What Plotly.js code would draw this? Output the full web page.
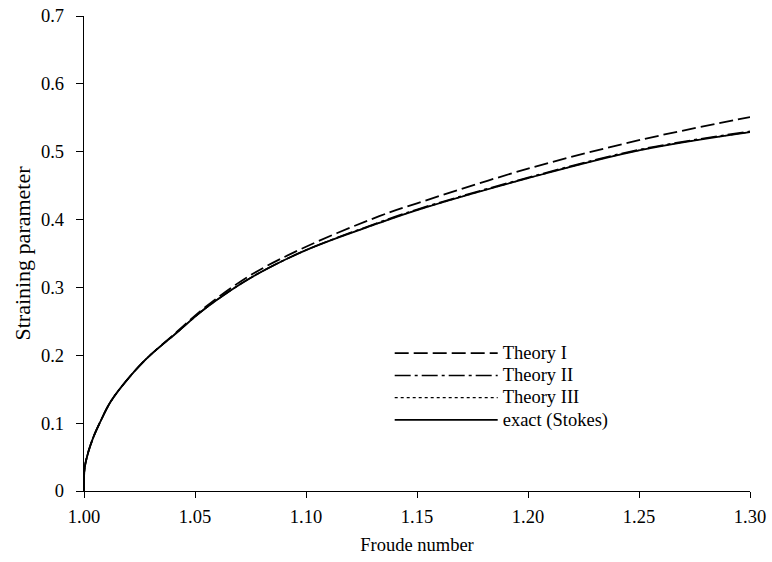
<!DOCTYPE html>
<html>
<head>
<meta charset="utf-8">
<script src="https://cdn.plot.ly/plotly-3.0.1.min.js"></script>
<style>html,body{margin:0;padding:0;background:#fff;}#chart{width:772px;height:562px;}</style>
</head>
<body>
<div id="chart"></div>
<script>
// Froude number samples
const froudeExact = [1.000, 1.0003, 1.0019, 1.0042, 1.0072, 1.0117, 1.0177, 1.0275, 1.042, 1.055, 1.075, 1.100, 1.133, 1.150, 1.200, 1.250, 1.300];
const exactStokes = [0.000, 0.034, 0.057, 0.079, 0.101, 0.130, 0.157, 0.193, 0.234, 0.270, 0.314, 0.355, 0.395, 0.414, 0.461, 0.502, 0.529];

const froudeTheory1 = [1.000, 1.0003, 1.0019, 1.0042, 1.0072, 1.0117, 1.0177, 1.0275, 1.042, 1.055, 1.075, 1.100, 1.133, 1.150, 1.200, 1.250, 1.300];
const theory1 = [0.000, 0.034, 0.057, 0.079, 0.101, 0.130, 0.157, 0.193, 0.235, 0.272, 0.318, 0.360, 0.405, 0.424, 0.475, 0.517, 0.551];

const froudeTheory2 = [1.000, 1.0003, 1.0019, 1.0042, 1.0072, 1.0117, 1.0177, 1.0275, 1.042, 1.055, 1.075, 1.100, 1.133, 1.150, 1.200, 1.250, 1.300];
const theory2 = [0.000, 0.034, 0.057, 0.079, 0.101, 0.130, 0.157, 0.193, 0.234, 0.270, 0.314, 0.355, 0.396, 0.415, 0.462, 0.503, 0.530];

const froudeTheory3 = [1.000, 1.0003, 1.0019, 1.0042, 1.0072, 1.0117, 1.0177, 1.0275, 1.042, 1.055, 1.075, 1.100, 1.133, 1.150, 1.200, 1.250, 1.300];
const theory3 = [0.000, 0.034, 0.057, 0.079, 0.101, 0.130, 0.157, 0.193, 0.234, 0.270, 0.314, 0.355, 0.395, 0.414, 0.461, 0.502, 0.529];

const seriesNames = ["Theory I", "Theory II", "Theory III", "exact (Stokes)"];

const xTickVals = [1.00, 1.05, 1.10, 1.15, 1.20, 1.25, 1.30];
const xTickLabels = ["1.00", "1.05", "1.10", "1.15", "1.20", "1.25", "1.30"];
const yTickVals = [0, 0.1, 0.2, 0.3, 0.4, 0.5, 0.6, 0.7];
const yTickLabels = ["0", "0.1", "0.2", "0.3", "0.4", "0.5", "0.6", "0.7"];

const serif = "Liberation Serif, Times New Roman, serif";
const legendName = n => '<span style="font-size:18.5px">' + n + '</span>';

const traces = [
  {x: froudeTheory1, y: theory1, name: legendName(seriesNames[0]), mode: "lines", line: {color: "#000", width: 1.8, dash: "14px,5px", shape: "spline"}},
  {x: froudeTheory2, y: theory2, name: legendName(seriesNames[1]), mode: "lines", line: {color: "#000", width: 1.6, dash: "16px,4px,3px,4px", shape: "spline"}},
  {x: froudeTheory3, y: theory3, name: legendName(seriesNames[2]), mode: "lines", line: {color: "#000", width: 1.2, dash: "3px,3px", shape: "spline"}},
  {x: froudeExact, y: exactStokes, name: legendName(seriesNames[3]), mode: "lines", line: {color: "#000", width: 1.8, shape: "spline"}}
];

const layout = {
  width: 772, height: 562,
  margin: {l: 84, r: 22, t: 16, b: 71},
  paper_bgcolor: "#fff", plot_bgcolor: "#fff",
  font: {family: serif, size: 18.5, color: "#000"},
  showlegend: true,
  legend: {
    x: 0.459, y: 0.324, xanchor: "left", yanchor: "top",
    bgcolor: "rgba(0,0,0,0)", itemwidth: 103, tracegroupgap: 0,
    font: {family: serif, size: 14.8, color: "#000"}
  },
  xaxis: {
    range: [1.0, 1.3], tickvals: xTickVals, ticktext: xTickLabels,
    showline: true, linecolor: "#000", linewidth: 1.2, mirror: false,
    ticks: "outside", ticklen: 6, tickcolor: "#000", tickwidth: 1,
    ticklabelstandoff: 3,
    showgrid: false, zeroline: false,
    title: {text: "Froude number", font: {family: serif, size: 18.5}, standoff: 11},
    tickfont: {family: serif, size: 18.5}
  },
  yaxis: {
    range: [0, 0.7], tickvals: yTickVals, ticktext: yTickLabels,
    showline: true, linecolor: "#000", linewidth: 1.2, mirror: false,
    ticks: "outside", ticklen: 7, tickcolor: "#000", tickwidth: 1,
    ticklabelstandoff: 8,
    showgrid: false, zeroline: false,
    title: {text: "Straining parameter", font: {family: serif, size: 22}, standoff: 4},
    tickfont: {family: serif, size: 18.5}
  }
};

Plotly.newPlot("chart", traces, layout, {displayModeBar: false, staticPlot: true});
</script>
</body>
</html>
